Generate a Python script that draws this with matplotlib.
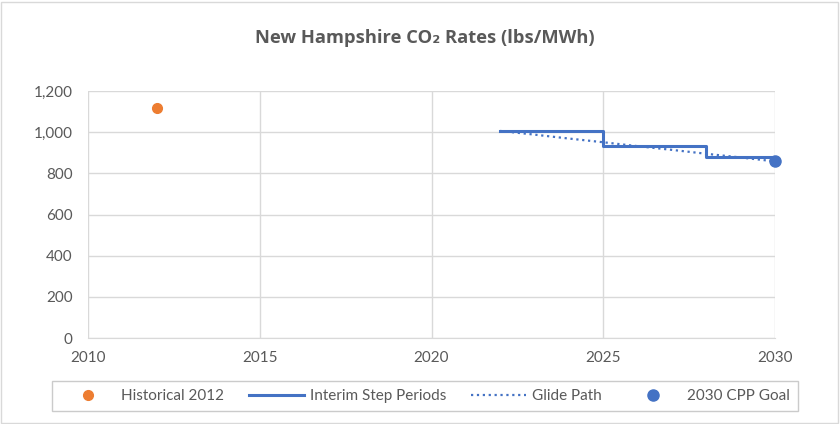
import matplotlib.pyplot as plt
from matplotlib.patches import Rectangle
from matplotlib.ticker import FuncFormatter

plt.rcParams['font.family'] = ['Lato', 'DejaVu Sans']

hist_year = [2012]
hist_rate = [1119]

step_years = [2022, 2025, 2028, 2030]
step_rates = [1006, 932, 880, 880]

glide_years = [2022, 2023, 2024, 2025, 2026, 2027, 2028, 2029, 2030]
glide_rates = [1006, 988, 969, 951, 932, 914, 895, 877, 858]

goal_year = [2030]
goal_rate = [858]

grey = '#595959'
grid = '#d9d9d9'
blue = '#4472C4'
orange = '#ED7D31'

fig = plt.figure(figsize=(8.4, 4.24), dpi=100)
ax = fig.add_axes([88 / 840, 1 - 338 / 424, 687 / 840, 247 / 424])

ax.plot(hist_year, hist_rate, 'o', color=orange, markersize=7, label='Historical 2012', zorder=3)
ax.plot(step_years, step_rates, drawstyle='steps-post', color=blue, lw=2.2, label='Interim Step Periods', zorder=3)
ax.plot(glide_years, glide_rates, ':', color=blue, lw=1.6, label='Glide Path', zorder=3)
ax.plot(goal_year, goal_rate, 'o', color=blue, markersize=8, label='2030 CPP Goal', zorder=4, clip_on=False)

ax.set_xlim(2010, 2030)
ax.set_ylim(0, 1200)
ax.set_xticks(range(2010, 2031, 5))
ax.set_yticks(range(0, 1201, 200))
ax.yaxis.set_major_formatter(FuncFormatter(lambda v, p: f'{int(v):,}'))
ax.grid(True, color=grid, lw=1)
ax.set_axisbelow(True)
for s in ['top', 'right', 'left']:
    ax.spines[s].set_visible(False)
ax.spines['bottom'].set_color(grid)
ax.tick_params(length=0, colors=grey, labelsize=11)
ax.tick_params(axis='y', pad=11)
ax.tick_params(axis='x', pad=9)

fig.text(425 / 840, 1 - 38 / 424, 'New Hampshire CO₂ Rates (lbs/MWh)', ha='center', va='center',
         fontsize=13.2, fontweight='bold', color=grey, family=['Open Sans', 'DejaVu Sans'])

leg = fig.legend(loc='center', bbox_to_anchor=(425 / 840, 1 - 396 / 424), ncol=4, frameon=True,
                 fancybox=False, fontsize=11, handlelength=3.6, handletextpad=0.4,
                 columnspacing=1.6, borderpad=0.5)
leg.get_frame().set_edgecolor('#bfbfbf')
leg.get_frame().set_linewidth(1)
for t in leg.get_texts():
    t.set_color(grey)

fig.patches.append(Rectangle((1 / 840, 1 / 424), 837 / 840, 421 / 424, transform=fig.transFigure,
                             fill=False, edgecolor=grid, lw=1))

fig.savefig('out.png', dpi=100)
